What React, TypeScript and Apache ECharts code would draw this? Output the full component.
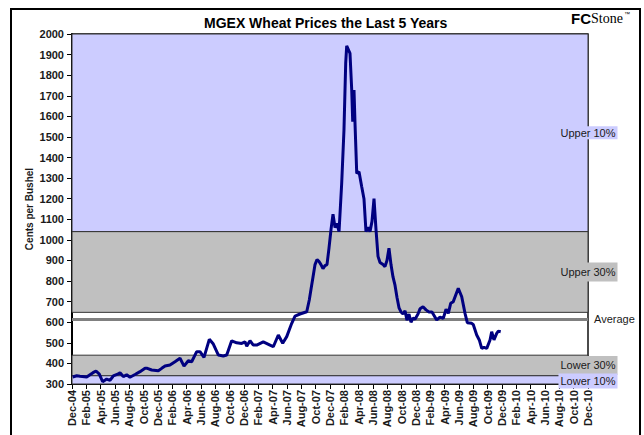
import React, { useEffect, useRef } from "react";
import * as echarts from "echarts";

// x tick labels, one every two months starting Dec-04 (month offset 0)
const xTickLabels = [
  "Dec-04", "Feb-05", "Apr-05", "Jun-05", "Aug-05", "Oct-05",
  "Dec-05", "Feb-06", "Apr-06", "Jun-06", "Aug-06", "Oct-06",
  "Dec-06", "Feb-07", "Apr-07", "Jun-07", "Aug-07", "Oct-07",
  "Dec-07", "Feb-08", "Apr-08", "Jun-08", "Aug-08", "Oct-08",
  "Dec-08", "Feb-09", "Apr-09", "Jun-09", "Aug-09", "Oct-09",
  "Dec-09", "Feb-10", "Apr-10", "Jun-10", "Aug-10", "Oct-10",
  "Dec-10",
];

// months elapsed since Dec-04 for each price observation
const monthOffsets = [
  0.1, 0.66, 1.12, 2.05, 2.51, 2.93, 3.35, 3.81, 4.28, 4.84, 5.3, 5.76,
  6.46, 6.7, 7.16, 7.63, 8.09, 8.79, 9.49, 10.19, 10.51, 11.12, 12.04, 12.52,
  12.98, 13.67, 14.37, 15.07, 15.63, 16.23, 16.7, 17.4, 17.86, 18.42, 19.16, 19.72,
  20.41, 21.11, 21.59, 22.28, 22.98, 23.68, 24.14, 24.38, 24.84, 25.3, 25.77, 26.69,
  27.63, 28.09, 28.79, 29.4, 29.96, 30.66, 31.12, 31.81, 32.75, 33.11, 33.35, 33.63,
  33.91, 34.19, 34.47, 34.74, 35.02, 35.3, 35.58, 35.86, 36.14, 36.42, 36.7, 36.98,
  37.26, 37.63, 37.95, 38.19, 38.33, 38.79, 39.03, 39.17, 39.35, 39.49, 39.73, 40.05,
  40.42, 40.74, 41.02, 41.3, 41.58, 41.86, 42.14, 42.42, 42.7, 42.98, 43.4, 43.67,
  43.95, 44.23, 44.51, 44.79, 45.07, 45.35, 45.63, 45.91, 46.19, 46.47, 46.74, 47.02,
  47.3, 47.58, 47.86, 48.28, 48.56, 48.98, 49.4, 49.81, 50.23, 50.89, 51.35, 51.81,
  52.19, 52.51, 52.84, 53.2, 53.9, 54.38, 54.84, 55.16, 55.77, 56.0, 56.47, 56.83,
  57.17, 57.49, 57.87, 58.33, 58.56, 58.88, 59.26, 59.49, 59.82,
];

// MGEX wheat price, cents per bushel
const prices = [
  334, 340, 338, 334, 345, 355, 363, 348, 311, 324, 318, 339,
  349, 355, 336, 345, 333, 346, 360, 376, 376, 368, 364, 376,
  387, 392, 408, 425, 387, 413, 408, 457, 457, 429, 517, 494,
  441, 436, 441, 510, 500, 497, 505, 484, 510, 489, 489, 505,
  489, 481, 538, 498, 530, 595, 630, 640, 651, 708, 760, 820,
  880, 905, 895, 880, 860, 875, 880, 960, 1050, 1125, 1060, 1080,
  1040, 1274, 1534, 1857, 1942, 1906, 1728, 1574, 1728, 1566, 1323, 1331,
  1259, 1200, 1040, 1060, 1040, 1090, 1200, 1050, 920, 890, 880, 870,
  900, 960, 880, 820, 780, 720, 670, 650, 640, 655, 610, 640,
  600, 620, 615, 640, 665, 675, 660, 650, 650, 611, 625, 619,
  663, 643, 692, 700, 765, 724, 643, 598, 595, 588, 538, 514,
  473, 478, 473, 514, 554, 514, 546, 557, 554,
];

// percentile bands and average (cents per bushel)
const bandNames = ["Upper 10%", "Upper 30%", "Lower 30%", "Lower 10%"];
const bandLows = [1040, 648, 340, 300];
const bandHighs = [2000, 1040, 440, 340];
const averagePrice = [615];

const PURPLE = "#CCCCFF";
const GRAY = "#C0C0C0";
const FONT = "Liberation Sans, Arial, sans-serif";

export default function App() {
  const ref = useRef<HTMLDivElement>(null);

  useEffect(() => {
    if (!ref.current) return;
    const chart = echarts.init(ref.current, null, { renderer: "svg" });

    const bandColors = [PURPLE, GRAY, GRAY, PURPLE];
    const bandPadding = [
      [1, 2, 1, 2],
      [4, 2, 4, 2],
      [4, 2, 4, 2],
      [2, 2, 2, 2],
    ];
    const bandOffsetY = [0, 0, 0, 1];

    const markAreaData = bandNames.map((name, i) => [
      {
        yAxis: bandLows[i],
        name,
        itemStyle: { color: bandColors[i], borderColor: "#333", borderWidth: 1 },
        label: {
          show: true,
          position: "insideRight",
          distance: 0,
          offset: [29, bandOffsetY[i]],
          formatter: name,
          color: "#1a1a1a",
          fontFamily: FONT,
          fontSize: 11,
          backgroundColor: bandColors[i],
          padding: bandPadding[i],
        },
      },
      { yAxis: bandHighs[i] },
    ]);

    chart.setOption({
      animation: false,
      backgroundColor: "#ffffff",
      title: {
        text: "MGEX Wheat Prices the Last 5 Years",
        left: 199,
        top: 11,
        textStyle: {
          fontFamily: FONT,
          fontSize: 14,
          fontWeight: "bold",
          color: "#000",
        },
      },
      graphic: [
        {
          type: "rect",
          shape: { x: 11, y: 9, width: 629, height: 440 },
          style: { fill: "none", stroke: "#000", lineWidth: 2 },
          silent: true,
        },
        {
          type: "text",
          left: 571,
          top: 11,
          style: {
            text: "{a|FC}{b|Stone}{c|™}",
            rich: {
              a: { fontFamily: FONT, fontWeight: "bold", fontSize: 15, fill: "#000" },
              b: { fontFamily: "Liberation Serif, serif", fontSize: 14, fill: "#000" },
              c: { fontFamily: FONT, fontSize: 6, fill: "#000", verticalAlign: "top", padding: [0, 0, 6, 1] },
            },
          },
        },
      ],
      grid: {
        left: 72,
        top: 34,
        right: 56,
        bottom: 51,
        show: true,
        borderColor: "#111",
        borderWidth: 1.5,
        backgroundColor: "#ffffff",
      },
      xAxis: {
        type: "value",
        min: 0,
        max: 72,
        interval: 2,
        axisLine: { show: true, onZero: false, lineStyle: { color: "#000", width: 2 } },
        axisTick: { show: true, length: 5, lineStyle: { color: "#000" } },
        splitLine: { show: false },
        axisLabel: {
          rotate: 90,
          margin: 6,
          fontFamily: FONT,
          fontSize: 11,
          fontWeight: "bold",
          color: "#1a1a1a",
          formatter: (v: number) => xTickLabels[Math.round(v / 2)] ?? "",
        },
      },
      yAxis: {
        type: "value",
        min: 300,
        max: 2000,
        interval: 100,
        name: "Cents per Bushel",
        nameLocation: "middle",
        nameGap: 38,
        nameMoveOverlap: false,
        nameTextStyle: {
          fontFamily: FONT,
          fontSize: 10,
          fontWeight: "bold",
          color: "#1a1a1a",
        },
        axisLine: { show: true, lineStyle: { color: "#000", width: 2 } },
        axisTick: { show: true, inside: false, length: 5, lineStyle: { color: "#000" } },
        splitLine: { show: false },
        axisLabel: {
          margin: 8,
          fontFamily: FONT,
          fontSize: 11,
          fontWeight: "bold",
          color: "#1a1a1a",
          formatter: (v: number) => String(v),
        },
      },
      series: [
        {
          type: "line",
          data: [],
          silent: true,
          markArea: {
            silent: true,
            data: markAreaData,
          },
          markLine: {
            silent: true,
            symbol: "none",
            lineStyle: { color: "#808080", width: 3, type: "solid" },
            label: {
              show: true,
              position: "end",
              distance: 6,
              formatter: "Average",
              fontFamily: FONT,
              fontSize: 11,
              color: "#1a1a1a",
            },
            data: [{ yAxis: averagePrice[0] }],
          },
        },
        {
          type: "line",
          data: monthOffsets.map((m, i) => [m, prices[i]]),
          showSymbol: false,
          symbol: "none",
          lineStyle: { color: "#000080", width: 3 },
          z: 5,
        },
      ],
    });

    return () => chart.dispose();
  }, []);

  return (
    <div
      ref={ref}
      style={{ position: "absolute", left: 0, top: 0, width: 644, height: 435 }}
    />
  );
}
